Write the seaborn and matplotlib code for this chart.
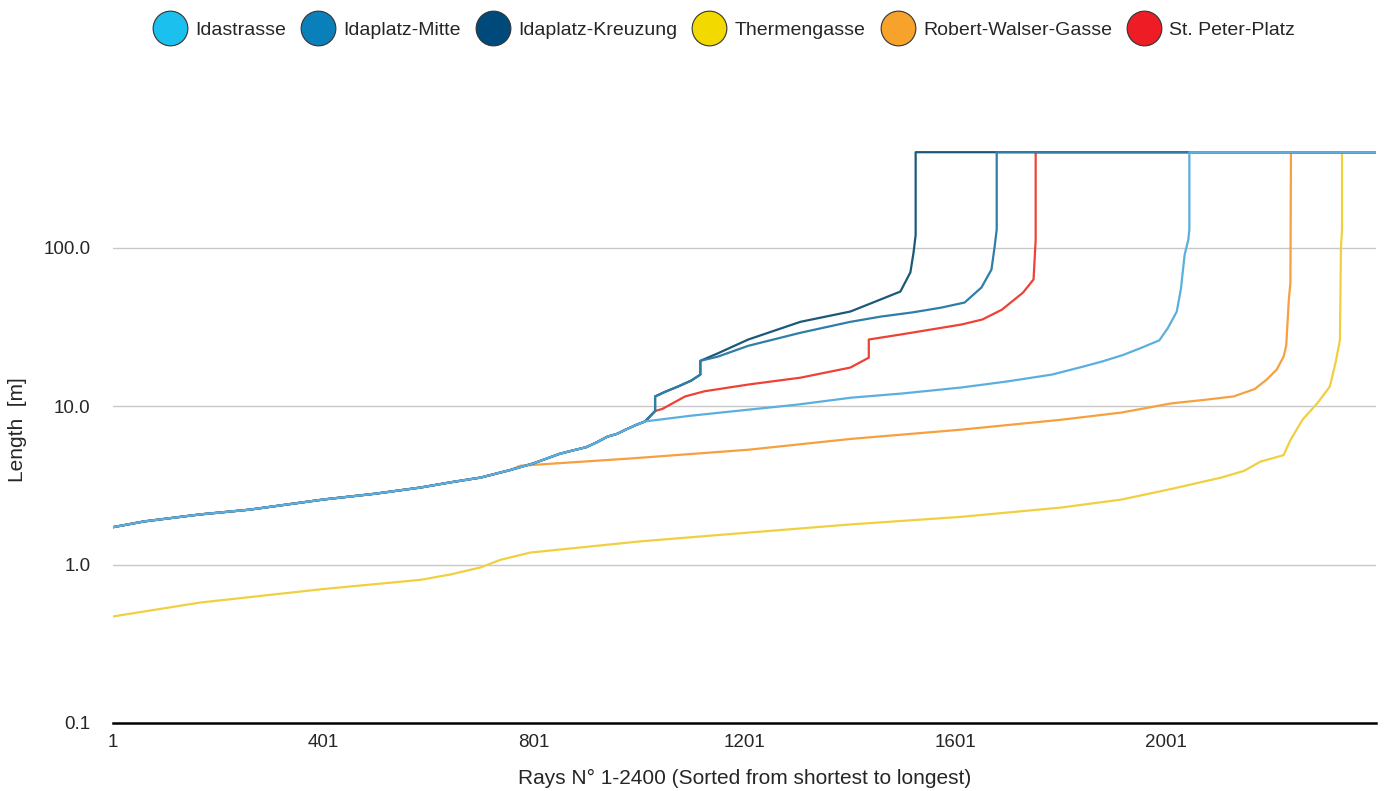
import numpy as np
import pandas as pd
import matplotlib.pyplot as plt
from matplotlib.lines import Line2D
import seaborn as sns

# values (ray index -> length in m)
shared_n = [1, 60, 166, 261, 400, 500, 585, 642, 700, 756]
shared_len = [1.72, 1.87, 2.07, 2.22, 2.57, 2.8, 3.06, 3.3, 3.54, 3.95]

blue_n = [800, 850, 870, 900, 920, 940, 960, 975, 995, 1012]
blue_len = [4.35, 5.0, 5.2, 5.5, 5.9, 6.4, 6.7, 7.1, 7.6, 8.0]

ida_n = [1100, 1210, 1300, 1404, 1500, 1613, 1700, 1785, 1843, 1880, 1920, 1956,
         1989, 2005, 2022, 2030, 2037, 2044, 2046, 2046, 2400]
ida_len = [8.7, 9.5, 10.2, 11.3, 12.0, 13.1, 14.3, 15.8, 17.7, 19.1, 21, 23.4,
           26, 31, 39.4, 55, 90, 112, 130, 400, 400]

jump_n = [1031, 1031, 1050, 1075, 1100, 1117, 1117]
jump_len = [9.3, 11.5, 12.3, 13.3, 14.5, 15.8, 19.3]

mitte_n = [1150, 1208, 1307, 1402, 1460, 1520, 1573, 1619, 1651, 1670, 1676,
           1680, 1680, 2400]
mitte_len = [20.5, 24, 29, 34, 36.7, 39, 41.7, 45, 56, 72.6, 101, 130, 400, 400]

kreuz_n = [1150, 1208, 1307, 1402, 1459, 1497, 1516, 1522, 1526, 1526, 2400]
kreuz_len = [21.5, 26.3, 34, 39.5, 47, 52.8, 69.8, 93, 120, 400, 400]

peter_n = [1031, 1045, 1088, 1125, 1210, 1307, 1402, 1437, 1437, 1498, 1613,
           1653, 1690, 1730, 1750, 1754, 1754, 2400]
peter_len = [9.3, 9.6, 11.5, 12.4, 13.7, 15.1, 17.5, 20.2, 26.3, 28.3, 32.7,
             35.2, 40.6, 52, 63, 112, 400, 400]

robert_n = [775, 985, 1208, 1402, 1613, 1803, 1917, 2012, 2070, 2130, 2170, 2193,
            2212, 2225, 2230, 2235, 2238, 2239, 2400]
robert_len = [4.2, 4.67, 5.3, 6.2, 7.1, 8.2, 9.1, 10.4, 10.9, 11.5, 12.8, 14.7,
              17, 20.5, 24, 47, 60, 400, 400]

therm_n = [1, 166, 400, 585, 642, 700, 737, 794, 1003, 1208, 1402, 1613, 1803,
           1917, 2012, 2107, 2150, 2181, 2225, 2238, 2261, 2290, 2313, 2324,
           2332, 2334, 2336, 2336, 2400]
therm_len = [0.47, 0.575, 0.70, 0.80, 0.865, 0.96, 1.07, 1.19, 1.4, 1.59, 1.79,
             2.0, 2.29, 2.57, 3.0, 3.54, 3.9, 4.46, 4.9, 6.1, 8.2, 10.5, 13.3,
             19, 26, 100, 130, 400, 400]

names = ["Idastrasse", "Idaplatz-Mitte", "Idaplatz-Kreuzung",
         "Thermengasse", "Robert-Walser-Gasse", "St. Peter-Platz"]
legend_colors = ["#1bc0ef", "#0a80bb", "#004a7b", "#f2da00", "#f7a22b", "#ee1c25"]
line_colors = ["#5aafdf", "#2f7da9", "#1c5878", "#f0d040", "#f6a040", "#ee4236"]

series = {
    "Idastrasse": (shared_n + blue_n + ida_n, shared_len + blue_len + ida_len),
    "Idaplatz-Mitte": (shared_n + blue_n + jump_n + mitte_n,
                       shared_len + blue_len + jump_len + mitte_len),
    "Idaplatz-Kreuzung": (shared_n + blue_n + jump_n + kreuz_n,
                          shared_len + blue_len + jump_len + kreuz_len),
    "Thermengasse": (therm_n, therm_len),
    "Robert-Walser-Gasse": (shared_n + robert_n, shared_len + robert_len),
    "St. Peter-Platz": (shared_n + blue_n + peter_n, shared_len + blue_len + peter_len),
}

sns.set_style("white")
plt.rcParams['font.family'] = ['Liberation Sans', 'DejaVu Sans']

fig = plt.figure(figsize=(13.84, 7.91), dpi=100)
ax = fig.add_axes([0.0816, 0.086, 0.9124, 0.741])

draw_order = ["Thermengasse", "Robert-Walser-Gasse", "St. Peter-Platz",
              "Idaplatz-Kreuzung", "Idaplatz-Mitte", "Idastrasse"]
for name in draw_order:
    n, ln = series[name]
    df = pd.DataFrame({"ray": n, "length": ln})
    c = line_colors[names.index(name)]
    sns.lineplot(data=df, x="ray", y="length", ax=ax, color=c, lw=1.6,
                 sort=False, estimator=None)

ax.set_yscale("log")
ax.set_ylim(0.1, 500)
ax.set_xlim(1, 2400)
ax.set_yticks([0.1, 1, 10, 100])
ax.set_yticklabels(["0.1", "1.0", "10.0", "100.0"])
ax.minorticks_off()
ax.set_xticks([1, 401, 801, 1201, 1601, 2001])
ax.set_xticklabels(["1", "401", "801", "1201", "1601", "2001"])
ax.tick_params(axis="y", length=0, pad=16, labelsize=13.5)
ax.tick_params(axis="x", length=0, pad=8, labelsize=13.5)
for v in [1, 10, 100]:
    ax.axhline(v, color="#c8c8c8", lw=1, zorder=0)
for s in ["top", "right", "left"]:
    ax.spines[s].set_visible(False)
ax.spines["bottom"].set_color("black")
ax.spines["bottom"].set_linewidth(1.8)

ax.set_xlabel("Rays N° 1-2400 (Sorted from shortest to longest)", fontsize=15, labelpad=13)
ax.set_ylabel("Length  [m]", fontsize=15, labelpad=12)

handles = [Line2D([], [], marker="o", linestyle="", markersize=25,
                  markerfacecolor=c, markeredgecolor="#333333", markeredgewidth=0.8)
           for c in legend_colors]
fig.legend(handles, names, loc="center", bbox_to_anchor=(0.524, 0.962), ncol=6,
           frameon=False, fontsize=14, handletextpad=0.55, columnspacing=0.9,
           handlelength=1.5)

fig.savefig("out.png", dpi=100)
